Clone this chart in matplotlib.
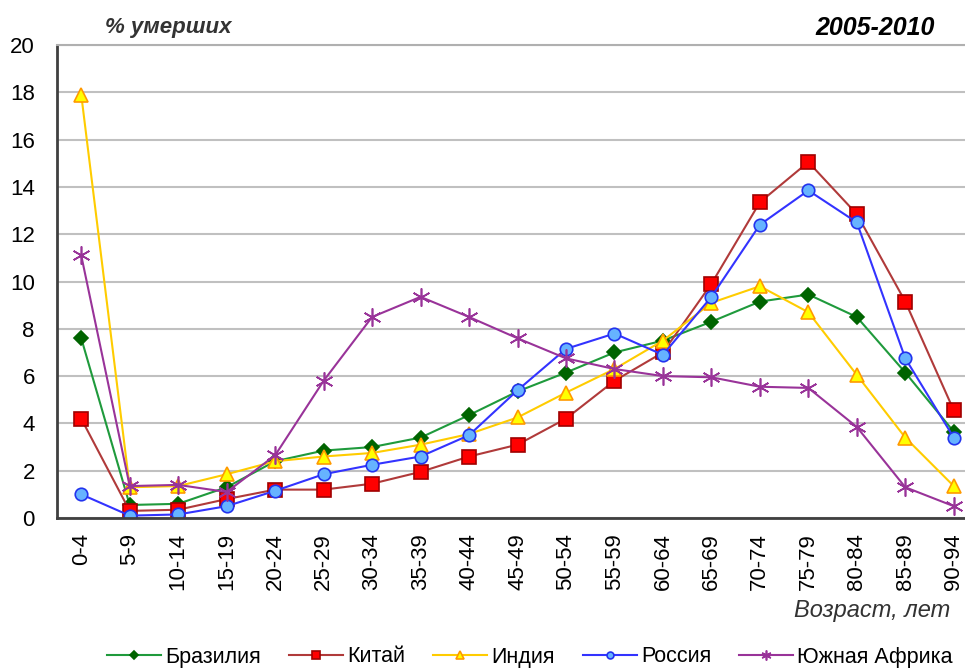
import matplotlib
matplotlib.use("Agg")
import matplotlib.pyplot as plt

plt.rcParams["font.family"] = ["Liberation Sans", "DejaVu Sans"]

ages = ["0-4", "5-9", "10-14", "15-19", "20-24", "25-29", "30-34", "35-39", "40-44",
        "45-49", "50-54", "55-59", "60-64", "65-69", "70-74", "75-79", "80-84", "85-89", "90-94"]

brazil = [7.6, 0.55, 0.6, 1.3, 2.4, 2.85, 3.0, 3.4, 4.35, 5.35, 6.15, 7.0, 7.5, 8.3, 9.15, 9.45, 8.5, 6.15, 3.65]
china = [4.2, 0.3, 0.35, 0.8, 1.2, 1.2, 1.45, 1.95, 2.6, 3.1, 4.2, 5.8, 7.0, 9.9, 13.35, 15.05, 12.85, 9.15, 4.55]
india = [17.9, 1.3, 1.35, 1.85, 2.4, 2.6, 2.75, 3.1, 3.55, 4.25, 5.3, 6.3, 7.5, 9.1, 9.8, 8.7, 6.05, 3.4, 1.35]
russia = [1.0, 0.1, 0.15, 0.5, 1.15, 1.85, 2.25, 2.6, 3.5, 5.4, 7.15, 7.8, 6.9, 9.35, 12.4, 13.85, 12.5, 6.75, 3.4]
south_africa = [11.1, 1.35, 1.4, 1.1, 2.65, 5.8, 8.5, 9.35, 8.5, 7.6, 6.75, 6.3, 6.0, 5.95, 5.55, 5.5, 3.85, 1.3, 0.5]

# label, values, line colour, marker, marker face, marker edge, marker size
series = [
    ("Бразилия", brazil, "#1f9a3c", "D", "#006400", "#006400", 7),
    ("Китай", china, "#b03a3a", "s", "#ff0000", "#a00000", 9.5),
    ("Индия", india, "#ffcc00", "^", "#ffff00", "#ff9900", 10),
    ("Россия", russia, "#3333ff", "o", "#66b3ff", "#2233ee", 9),
    ("Южная Африка", south_africa, "#993399", (6, 2, 0), "#993399", "#993399", 13),
]

fig = plt.figure(figsize=(9.65, 6.68), dpi=100)
ax = fig.add_axes([57 / 965, 150 / 668, 921 / 965, 473 / 668])

x = list(range(len(ages)))
for label, vals, lc, mk, mfc, mec, ms in series:
    ax.plot(x, vals, color=lc, lw=1.5, marker=mk, markerfacecolor=mfc,
            markeredgecolor=mec, markersize=ms, markeredgewidth=1.2, label=label)

ax.set_xlim(-0.5, len(ages) - 0.5)
ax.set_ylim(0, 20)
ax.set_yticks(range(0, 21, 2))
ax.set_xticks(x)
ax.set_xticklabels(ages, rotation=90, fontsize=16)
ax.tick_params(axis="y", labelsize=16, length=0, pad=16)
ax.tick_params(axis="x", length=0, pad=11)
ax.yaxis.grid(True, color="#c0c0c0", lw=1.5)
ax.set_axisbelow(True)
ax.spines["right"].set_visible(False)
ax.spines["top"].set_color("#b0b0b0")
ax.spines["top"].set_linewidth(1.5)
ax.spines["left"].set_color("#404040")
ax.spines["left"].set_linewidth(2)
ax.spines["bottom"].set_color("#404040")
ax.spines["bottom"].set_linewidth(2)

fig.text(105 / 965, 1 - 27 / 668, "% умерших", fontsize=16, fontweight="bold",
         fontstyle="italic", color="#333333", va="center")
fig.text(935 / 965, 1 - 28 / 668, "2005-2010", fontsize=18, fontweight="bold",
         fontstyle="italic", color="black", va="center", ha="right")
fig.text(950 / 965, 1 - 611 / 668, "Возраст, лет", fontsize=17,
         fontstyle="italic", color="#333333", va="center", ha="right")

leg = fig.legend(loc="center", bbox_to_anchor=(530 / 965, 1 - 657 / 668), ncol=5,
                 frameon=False, fontsize=15.5, handlelength=2.5, columnspacing=1.3,
                 handletextpad=0.2, markerscale=0.55, borderpad=0)

fig.savefig("out.png", dpi=100)
